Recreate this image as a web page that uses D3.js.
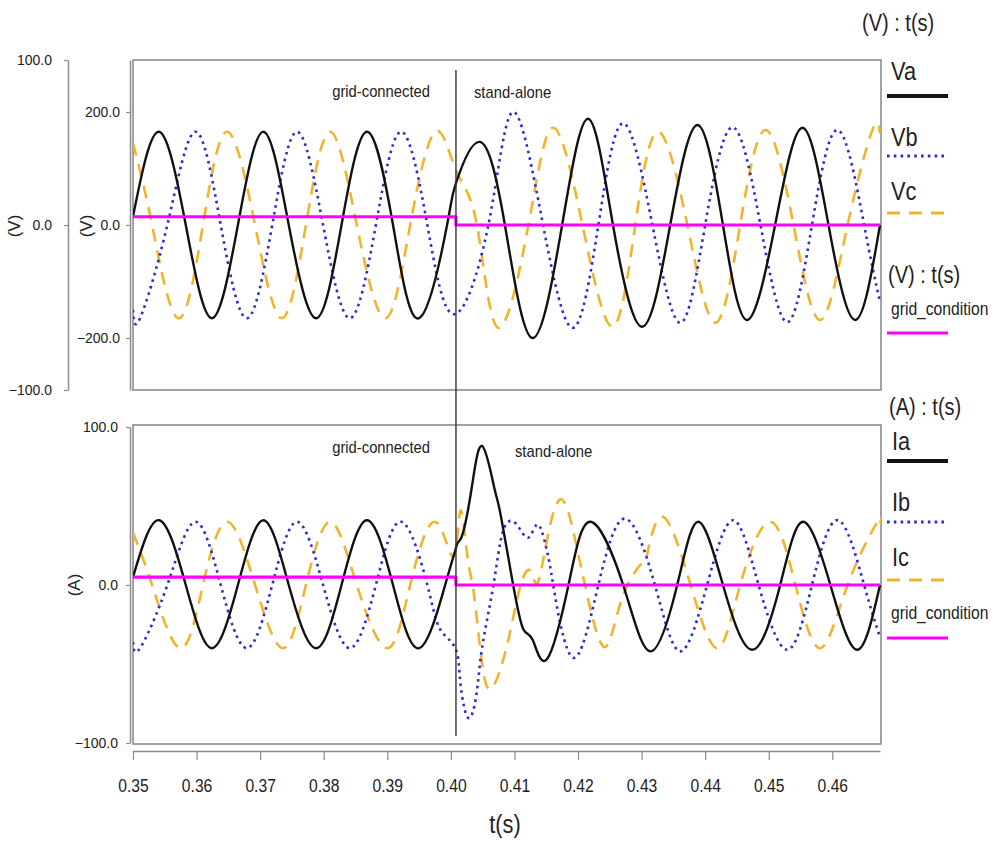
<!DOCTYPE html>
<html><head><meta charset="utf-8">
<script src="https://cdn.jsdelivr.net/npm/d3@7/dist/d3.min.js"></script>
<style>
body{margin:0;background:#fff;}
svg text{font-family:"Liberation Sans Narrow","Arial Narrow","Liberation Sans",Arial,sans-serif;fill:#222;}
</style></head><body>
<svg id="c" width="1005" height="843"></svg>
<script>
// ---------------- data ----------------
const xTicks = [0.35,0.36,0.37,0.38,0.39,0.40,0.41,0.42,0.43,0.44,0.45,0.46];
const vTicks = [-200,0,200];
const vAuxTicks = [-100,0,100];
const iTicks = [-100,0,100];
const tSwitch = 0.4008;

// phase voltages (V)
const VA_T = [0.3500,0.3541,0.3583,0.3624,0.3665,0.3705,0.3745,0.3788,0.3828,0.3868,0.3909,0.3950,0.3994,0.4008,0.4046,0.4085,0.4128,0.4175,0.4216,0.4255,0.4301,0.4345,0.4388,0.4428,0.4466,0.4510,0.4553,0.4594,0.4636,0.4675];
const VA_V = [15,165,0,-165,0,165,0,-165,0,165,0,-165,0,74,147,0,-200,0,188,0,-180,0,177,0,-168,0,172,0,-168,0];
const VB_T = [0.3500,0.3511,0.3554,0.3598,0.3638,0.3679,0.3719,0.3758,0.3799,0.3841,0.3882,0.3922,0.3963,0.4004,0.4059,0.4098,0.4145,0.4192,0.4232,0.4271,0.4317,0.4361,0.4400,0.4443,0.4487,0.4529,0.4568,0.4609,0.4650,0.4675];
const VB_V = [-150,-165,0,165,0,-165,0,165,0,-165,0,165,0,-158,0,200,0,-182,0,180,0,-173,0,173,0,-172,0,168,0,-136];
const VC_T = [0.3500,0.3530,0.3571,0.3610,0.3648,0.3692,0.3734,0.3772,0.3810,0.3852,0.3897,0.3936,0.3975,0.4008,0.4041,0.4074,0.4122,0.4161,0.4207,0.4254,0.4290,0.4326,0.4372,0.4416,0.4455,0.4495,0.4539,0.4581,0.4624,0.4663,0.4675];
const VC_V = [145,0,-165,0,165,0,-165,0,165,0,-165,0,165,97,0,-182,0,172,0,-180,0,165,0,-173,0,168,0,-168,0,168,162];

// phase currents (A)
const IA_T = [0.3500,0.3541,0.3583,0.3624,0.3665,0.3705,0.3745,0.3788,0.3828,0.3868,0.3909,0.3950,0.3991,0.4007,0.4011,0.4019,0.4033,0.4049,0.4068,0.4078,0.4098,0.4114,0.4129,0.4151,0.4185,0.4219,0.4271,0.4314,0.4356,0.4389,0.4428,0.4474,0.4518,0.4554,0.4597,0.4639,0.4675];
const IA_V = [5,41,0,-40,0,41,0,-40,0,41,0,-40,0,22,27,33,62,88,62,45,0,-28,-35,-47,0,40,0,-42,0,40,0,-41,0,40,0,-41,0];
const IB_T = [0.3500,0.3511,0.3554,0.3598,0.3638,0.3679,0.3719,0.3758,0.3799,0.3841,0.3882,0.3922,0.3963,0.3983,0.4007,0.4015,0.4027,0.4040,0.4049,0.4067,0.4082,0.4102,0.4122,0.4138,0.4153,0.4161,0.4192,0.4232,0.4274,0.4321,0.4361,0.4403,0.4444,0.4484,0.4529,0.4568,0.4609,0.4650,0.4675];
const IB_V = [-36,-40,0,40,0,-40,0,40,0,-40,0,40,0,-28,-40,-62,-84,-70,-40,0,34,39,30,38,18,0,-46,0,42,0,-42,0,41,0,-41,0,41,0,-33];
const IC_T = [0.3500,0.3530,0.3574,0.3610,0.3648,0.3692,0.3736,0.3772,0.3810,0.3852,0.3900,0.3936,0.3975,0.4004,0.4015,0.4026,0.4035,0.4046,0.4062,0.4089,0.4109,0.4125,0.4136,0.4151,0.4175,0.4199,0.4211,0.4240,0.4268,0.4301,0.4309,0.4334,0.4377,0.4419,0.4455,0.4502,0.4542,0.4581,0.4624,0.4671,0.4675];
const IC_V = [33,0,-40,0,40,0,-40,0,40,0,-40,0,40,18,47,18,-2,-40,-66,-37,-1,9,1,28,54,22,0,-39,-10,14,20,43,0,-40,0,40,0,-40,0,40,39];

// grid condition flags (step at islanding)
const GRID_T = [0.3500,0.4008,0.4008,0.4675];
const GRID_V = [5,5,0,0];

// legend / labels
const vLegend = ["Va","Vb","Vc"];
const iLegend = ["Ia","Ib","Ic"];
const gridLabel = "grid_condition";

// ---------------- drawing ----------------
const svg = d3.select("#c");
const zip = (T,V) => T.map((t,i)=>({t:t, v:V[i]}));
const SX = 0.87; // horizontal condensing of narrow-looking text

const X0=133, X1=880;
const x = d3.scaleLinear().domain([0.35,0.4675]).range([X0,X1]);
const yV = d3.scaleLinear().domain([-292,292]).range([390,60]);
const yVaux = d3.scaleLinear().domain([-100,100]).range([390,60]);
const yI = d3.scaleLinear().domain([-100,100]).range([743,427]);

const styles = {
  a:{stroke:"#111", width:2.4, dash:null},
  b:{stroke:"#2d2dcf", width:2.6, dash:"2.6,4.2"},
  c:{stroke:"#f2b42c", width:2.6, dash:"13,9"},
  g:{stroke:"#ff00ff", width:3.2, dash:null}
};

const defs = svg.append("defs");
defs.append("clipPath").attr("id","clipT").append("rect").attr("x",X0).attr("y",60).attr("width",X1-X0+1).attr("height",330);
defs.append("clipPath").attr("id","clipB").append("rect").attr("x",X0).attr("y",425).attr("width",X1-X0+1).attr("height",319);

// boxes
svg.append("rect").attr("x",X0).attr("y",60).attr("width",X1-X0+1).attr("height",330)
  .attr("fill","none").attr("stroke","#8c8c8c").attr("stroke-width",1.6);
svg.append("rect").attr("x",X0).attr("y",425).attr("width",X1-X0+1).attr("height",319)
  .attr("fill","none").attr("stroke","#8c8c8c").attr("stroke-width",1.6);

function drawSeries(g, data, y, st, curve){
  const line = d3.line().x(d=>x(d.t)).y(d=>y(d.v)).curve(curve);
  const p = g.append("path").datum(data).attr("d",line)
    .attr("fill","none").attr("stroke",st.stroke).attr("stroke-width",st.width)
    .attr("stroke-linejoin","round");
  if(st.dash) p.attr("stroke-dasharray",st.dash);
}

const gT = svg.append("g").attr("clip-path","url(#clipT)");
drawSeries(gT, zip(VC_T,VC_V), yV, styles.c, d3.curveNatural);
drawSeries(gT, zip(VB_T,VB_V), yV, styles.b, d3.curveNatural);
drawSeries(gT, zip(VA_T,VA_V), yV, styles.a, d3.curveNatural);
drawSeries(gT, zip(GRID_T,GRID_V), yVaux, styles.g, d3.curveLinear);

const gB = svg.append("g").attr("clip-path","url(#clipB)");
drawSeries(gB, zip(IC_T,IC_V), yI, styles.c, d3.curveNatural);
drawSeries(gB, zip(IB_T,IB_V), yI, styles.b, d3.curveNatural);
drawSeries(gB, zip(IA_T,IA_V), yI, styles.a, d3.curveNatural);
drawSeries(gB, zip(GRID_T,GRID_V), yI, styles.g, d3.curveLinear);

// switching instant
svg.append("line").attr("x1",x(tSwitch)).attr("x2",x(tSwitch)).attr("y1",70).attr("y2",736)
  .attr("stroke","#333").attr("stroke-width",1.4);

// annotations
const ann = [
  {t:"grid-connected", x:x(tSwitch)-26, y:97, a:"end"},
  {t:"stand-alone", x:x(tSwitch)+18, y:98, a:"start"},
  {t:"grid-connected", x:x(tSwitch)-26, y:453, a:"end"},
  {t:"stand-alone", x:x(tSwitch)+59, y:457, a:"start"}
];
svg.selectAll("text.ann").data(ann).enter().append("text").attr("class","ann")
  .attr("transform",d=>`translate(${d.x},${d.y}) scale(${SX},1)`).attr("text-anchor",d=>d.a)
  .style("font-size","17px").text(d=>d.t);

// axes
function styleAxis(g, fs, sx){
  g.selectAll(".domain").attr("stroke","#8c8c8c").attr("stroke-width",1.5);
  g.selectAll(".tick line").attr("stroke","#8c8c8c").attr("stroke-width",1.2);
  const t = g.selectAll(".tick text").style("font-size",fs).attr("fill","#222");
  if(sx) t.attr("transform",`scale(${sx},1)`);
}
const fmt1 = d3.format(".1f");
const axV = svg.append("g").attr("transform","translate(130,0)")
  .call(d3.axisLeft(yV).tickValues(vTicks).tickFormat(fmt1).tickSize(4).tickSizeOuter(0).tickPadding(6));
styleAxis(axV,"14px");
const axVaux = svg.append("g").attr("transform","translate(68,0)")
  .call(d3.axisLeft(yVaux).tickValues(vAuxTicks).tickFormat(fmt1).tickSize(4).tickSizeOuter(0).tickPadding(12));
styleAxis(axVaux,"14px");
const axI = svg.append("g").attr("transform","translate(130,0)")
  .call(d3.axisLeft(yI).tickValues(iTicks).tickFormat(fmt1).tickSize(4).tickSizeOuter(0).tickPadding(8));
styleAxis(axI,"14px");
const axX = svg.append("g").attr("transform","translate(0,751)")
  .call(d3.axisBottom(x).tickValues(xTicks).tickFormat(d3.format(".2f")).tickSize(9).tickSizeOuter(0).tickPadding(19));
styleAxis(axX,"18px",SX);

// axis titles
function vtitle(tx, ty, s){
  svg.append("text").attr("transform",`translate(${tx},${ty}) rotate(-90)`)
    .attr("text-anchor","middle").style("font-size","17px").text(s);
}
vtitle(20,226,"(V)");
vtitle(92,226,"(V)");
vtitle(80,585,"(A)");
svg.append("text").attr("transform",`translate(505,833) scale(${SX},1)`).attr("text-anchor","middle")
  .style("font-size","25px").text("t(s)");

// legends
function legendLine(y, st, w){
  const l = svg.append("line").attr("x1",887).attr("x2",948).attr("y1",y).attr("y2",y)
    .attr("stroke",st.stroke).attr("stroke-width",w);
  if(st.dash) l.attr("stroke-dasharray",st.dash);
}
function txt(xp, yp, s, fs){
  svg.append("text").attr("transform",`translate(${xp},${yp}) scale(${SX},1)`).style("font-size",fs).text(s);
}
txt(862,31,"(V) : t(s)","23px");
const vl = [{y:80,ly:96,st:styles.a},{y:146,ly:156,st:styles.b},{y:200,ly:213,st:styles.c}];
vLegend.forEach((s,i)=>{ txt(891, vl[i].y, s, "25px"); legendLine(vl[i].ly, vl[i].st, i===0?4:3); });
txt(888,283,"(V) : t(s)","23px");
txt(891,315,gridLabel,"18px");
legendLine(333, styles.g, 3);
txt(889,415,"(A) : t(s)","23px");
const il = [{y:450,ly:461,st:styles.a},{y:511,ly:522,st:styles.b},{y:566,ly:580,st:styles.c}];
iLegend.forEach((s,i)=>{ txt(892, il[i].y, s, "25px"); legendLine(il[i].ly, il[i].st, i===0?4:3); });
txt(891,619,gridLabel,"18px");
legendLine(638, styles.g, 3);
</script>
</body></html>
